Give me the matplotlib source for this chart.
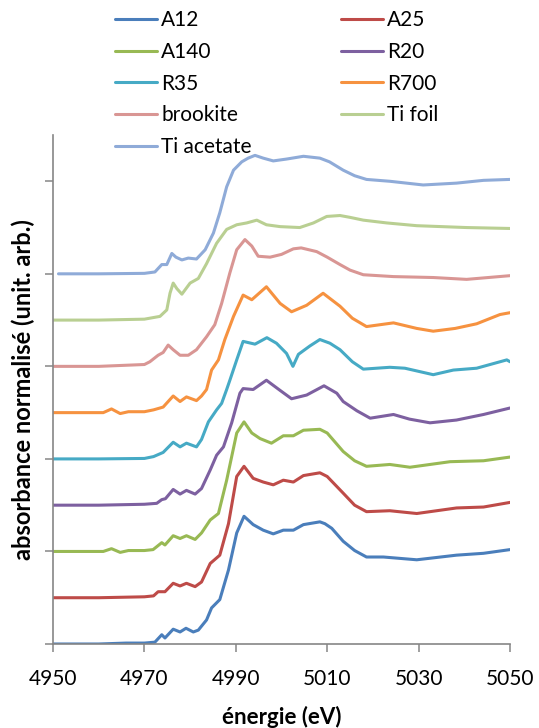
import numpy as np
import matplotlib.pyplot as plt

plt.rcParams['font.family'] = ['Lato', 'DejaVu Sans']

# spectres normalisés (énergie en eV, absorbance sans décalage)
e_A12 = [4950, 4960, 4966, 4970, 4972.3, 4973.8, 4974.5, 4976.3, 4977.8, 4979.1, 4980.7, 4981.8,
         4983.6, 4984.7, 4986.5, 4988.4, 4990.2, 4991.8, 4993.8, 4996.0, 4998.2, 5000.4, 5002.6,
         5004.8, 5008.4, 5009.5, 5011.0, 5013.5, 5016.0, 5018.6, 5022.3, 5029.6, 5038.3, 5044.2, 5050]
y_A12 = [0, 0.0, 0.01, 0.01, 0.02, 0.10, 0.065, 0.16, 0.13, 0.17, 0.13, 0.15,
         0.26, 0.39, 0.48, 0.80, 1.20, 1.38, 1.29, 1.23, 1.19, 1.23, 1.23,
         1.29, 1.32, 1.30, 1.25, 1.11, 1.01, 0.94, 0.94, 0.91, 0.96, 0.98, 1.02]

e_A25 = [4950, 4960, 4970, 4972.0, 4973.0, 4974.5, 4976.3, 4977.8, 4979.2, 4981.1, 4982.5, 4984.4,
         4986.5, 4988.4, 4990.2, 4991.8, 4993.8, 4996.0, 4998.2, 5000.4, 5002.6, 5004.8, 5008.4,
         5010.0, 5013.5, 5016.0, 5018.6, 5023.7, 5029.6, 5038.3, 5044.2, 5050]
y_A25 = [0, 0.0, 0.01, 0.02, 0.065, 0.065, 0.156, 0.127, 0.156, 0.12, 0.17, 0.37,
         0.46, 0.80, 1.31, 1.42, 1.29, 1.25, 1.22, 1.27, 1.25, 1.32, 1.35,
         1.31, 1.13, 1.00, 0.93, 0.94, 0.91, 0.97, 0.98, 1.03]

e_A140 = [4950, 4961, 4962.8, 4964.7, 4966.5, 4970, 4971.9, 4973.8, 4974.5, 4976.3, 4977.8, 4979.2,
          4981.1, 4982.5, 4984.4, 4986.2, 4988.0, 4990.2, 4991.8, 4993.5, 4995.3, 4997.8, 5000.4,
          5002.6, 5004.8, 5008.4, 5010.0, 5013.5, 5016.0, 5018.6, 5023.7, 5028.1, 5036.9, 5044.2, 5050]
y_A140 = [0, 0.0, 0.03, -0.01, 0.01, 0.01, 0.02, 0.095, 0.07, 0.17, 0.14, 0.17,
          0.13, 0.20, 0.34, 0.41, 0.77, 1.28, 1.40, 1.28, 1.22, 1.17, 1.25,
          1.25, 1.31, 1.32, 1.28, 1.08, 0.98, 0.92, 0.94, 0.91, 0.97, 0.98, 1.02]

e_R20 = [4950, 4960, 4970, 4972.7, 4973.8, 4974.6, 4976.3, 4977.8, 4979.2, 4981.1, 4982.5, 4984.4,
         4985.8, 4987.3, 4989.1, 4990.9, 4991.6, 4993.8, 4996.7, 4999.7, 5002.2, 5005.5, 5009.3,
         5012.1, 5013.5, 5016.5, 5019.4, 5024.5, 5028.0, 5032.5, 5038.3, 5044.2, 5050]
y_R20 = [0, 0, 0.01, 0.02, 0.06, 0.07, 0.17, 0.12, 0.16, 0.12, 0.18, 0.38,
         0.54, 0.63, 0.89, 1.21, 1.26, 1.25, 1.35, 1.24, 1.15, 1.19, 1.29,
         1.21, 1.12, 1.02, 0.94, 0.98, 0.93, 0.89, 0.92, 0.98, 1.05]

e_R35 = [4950, 4960, 4970, 4972, 4974.1, 4976.3, 4977.8, 4979.2, 4981.4, 4982.5, 4984.0, 4985.8,
         4986.9, 4988.0, 4988.7, 4990.2, 4991.6, 4994.2, 4996.8, 4998.9, 5001.1, 5002.5, 5003.7,
         5006.2, 5008.4, 5010.6, 5012.8, 5015.5, 5017.9, 5023.7, 5027.0, 5033.2, 5037.6, 5042.7,
         5049.3, 5050]
y_R35 = [0, 0, 0.005, 0.025, 0.07, 0.18, 0.13, 0.17, 0.13, 0.21, 0.40, 0.53,
         0.60, 0.75, 0.85, 1.07, 1.27, 1.24, 1.31, 1.25, 1.14, 1.00, 1.13,
         1.22, 1.29, 1.25, 1.18, 1.05, 0.97, 0.99, 0.98, 0.91, 0.96, 0.98,
         1.07, 1.05]

e_R700 = [4950, 4961, 4962.8, 4964.7, 4966.5, 4970, 4972, 4974.1, 4976.3, 4977.8, 4979.2, 4981.4,
          4982.5, 4983.6, 4984.7, 4986.2, 4987.6, 4989.5, 4991.6, 4993.5, 4996.7, 4999.7, 5002.2,
          5005.5, 5009.1, 5012.8, 5015.5, 5018.6, 5024.5, 5029.6, 5033.2, 5038.0, 5042.7, 5047.8, 5050]
y_R700 = [0, 0, 0.04, -0.01, 0.01, 0.01, 0.03, 0.06, 0.18, 0.12, 0.17, 0.13,
          0.18, 0.25, 0.46, 0.57, 0.79, 1.04, 1.27, 1.22, 1.36, 1.18, 1.09,
          1.16, 1.29, 1.15, 1.02, 0.93, 0.97, 0.91, 0.88, 0.91, 0.96, 1.06, 1.08]

e_brookite = [4950, 4960, 4970, 4971.2, 4973.0, 4974.1, 4975.2, 4976.3, 4977.8, 4979.6, 4981.4,
              4983.6, 4985.4, 4986.9, 4988.7, 4990.2, 4992.0, 4993.5, 4994.9, 4997.5, 5000.0,
              5002.6, 5004.3, 5007.7, 5010.0, 5012.8, 5015.0, 5017.9, 5024.5, 5033.2, 5040.5, 5050]
y_brookite = [0, 0, 0.02, 0.05, 0.12, 0.15, 0.23, 0.18, 0.12, 0.12, 0.18,
              0.32, 0.45, 0.68, 1.01, 1.26, 1.37, 1.30, 1.19, 1.18, 1.21,
              1.27, 1.28, 1.24, 1.18, 1.10, 1.04, 0.99, 0.97, 0.96, 0.94, 0.98]

e_Tifoil = [4950, 4960, 4970, 4973.4, 4974.9, 4975.6, 4976.3, 4977.1, 4978.2, 4980.0, 4981.8,
            4983.6, 4985.8, 4988.0, 4990.2, 4992.4, 4994.6, 4996.7, 4999.7, 5004.0, 5007.0,
            5009.9, 5012.8, 5015.0, 5017.9, 5023.0, 5029.6, 5040.5, 5050]
y_Tifoil = [0, 0, 0.01, 0.04, 0.11, 0.29, 0.40, 0.34, 0.28, 0.40, 0.45,
            0.61, 0.83, 0.98, 1.03, 1.05, 1.08, 1.03, 1.01, 1.00, 1.05,
            1.12, 1.13, 1.11, 1.08, 1.05, 1.02, 1.00, 0.99]

e_Tiacetate = [4951.2, 4960, 4970, 4972.3, 4973.8, 4974.9, 4976.0, 4976.9, 4978.2, 4979.6, 4981.4,
               4983.3, 4985.1, 4986.5, 4988.0, 4989.5, 4991.3, 4992.7, 4994.2, 4996.0, 4998.2,
               5001.1, 5004.8, 5008.4, 5010.5, 5013.5, 5016.0, 5018.6, 5023.7, 5031.0, 5038.3,
               5044.2, 5050]
y_Tiacetate = [0, 0, 0.005, 0.02, 0.10, 0.10, 0.22, 0.18, 0.15, 0.17, 0.16,
               0.26, 0.44, 0.66, 0.94, 1.12, 1.21, 1.25, 1.28, 1.25, 1.22,
               1.24, 1.27, 1.25, 1.21, 1.12, 1.06, 1.02, 1.00, 0.96, 0.98,
               1.01, 1.02]

labels = ['A12', 'A25', 'A140', 'R20', 'R35', 'R700', 'brookite', 'Ti foil', 'Ti acetate']
energies = [e_A12, e_A25, e_A140, e_R20, e_R35, e_R700, e_brookite, e_Tifoil, e_Tiacetate]
spectra = [y_A12, y_A25, y_A140, y_R20, y_R35, y_R700, y_brookite, y_Tifoil, y_Tiacetate]
colors = ['#4A7EBB', '#BE4B48', '#98B954', '#7D60A0', '#46AAC5', '#F69240',
          '#D99694', '#B9CF92', '#8FABD8']
decalage = 0.5  # décalage vertical entre spectres

fig = plt.figure(figsize=(5.39, 7.28), dpi=100)
ax = fig.add_axes([53 / 539, 1 - 644 / 728, 457 / 539, 509 / 728])

handles = []
for i, (e, y, lab, c) in enumerate(zip(energies, spectra, labels, colors)):
    h, = ax.plot(e, np.array(y) + i * decalage, color=c, lw=2.2, label=lab,
                 solid_joinstyle='round', solid_capstyle='round')
    handles.append(h)

ax.set_xlim(4950, 5050)
ax.set_ylim(0, 5.5)
ax.set_xticks(np.arange(4950, 5051, 20))
ax.set_yticks(np.arange(0, 5.1, 1))
ax.set_yticklabels([])
ax.tick_params(axis='both', direction='out', length=6, width=1.1, color='#868686',
               labelsize=15)
ax.tick_params(axis='x', pad=12)
for s in ['top', 'right']:
    ax.spines[s].set_visible(False)
for s in ['left', 'bottom']:
    ax.spines[s].set_color('#868686')
    ax.spines[s].set_linewidth(1.2)

ax.set_xlabel('énergie (eV)', fontsize=16, fontweight='bold', labelpad=12)
ax.set_ylabel('absorbance normalisé (unit. arb.)', fontsize=17, fontweight='bold')
ax.yaxis.set_label_coords(-0.04, 0.5)

# légende en deux colonnes, remplie par lignes
ordre = [0, 2, 4, 6, 8, 1, 3, 5, 7]
fig.legend([handles[k] for k in ordre], [labels[k] for k in ordre], ncol=2, frameon=False,
           fontsize=15, loc='upper left', bbox_to_anchor=(107 / 539, 1 - 2 / 728),
           handlelength=2.0, handletextpad=0.2, columnspacing=4.3, labelspacing=0.56,
           borderaxespad=0.0)

fig.savefig('out.png', dpi=100)
